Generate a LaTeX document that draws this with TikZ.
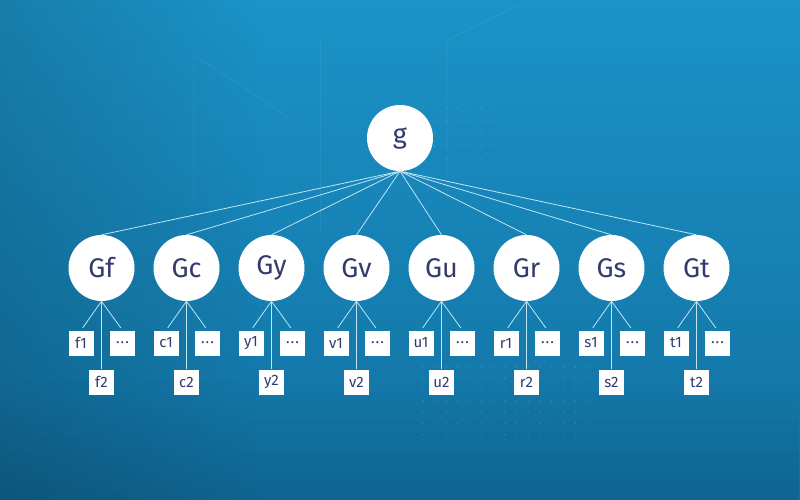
\documentclass[tikz,border=0pt]{standalone}
\usepackage{fontspec}
\setmainfont{Fira Sans}
\usetikzlibrary{positioning,fadings}

\definecolor{bgtop}{RGB}{27,147,200}
\definecolor{bgbot}{RGB}{18,112,160}
\definecolor{ink}{RGB}{50,58,110}
\definecolor{wire}{RGB}{190,230,245}

\tikzset{
  grp/.style={circle, fill=white, minimum size=66pt, inner sep=0pt, text=ink, font=\fontsize{27}{27}\selectfont},
  leaf/.style={rectangle, fill=white, minimum size=25pt, inner sep=0pt, text=ink, font=\fontsize{15}{15}\selectfont},
  link/.style={draw=wire, line width=0.8pt},
  deco/.style={draw=white, opacity=0.07, line width=0.8pt}
}

\begin{document}
\begin{tikzpicture}[x=1pt, y=-1pt]
    % Background
    \shade [top color=bgtop, bottom color=bgbot] (0,0) rectangle (800,500);
    \fill [black, opacity=0.14, path fading=east] (0,0) rectangle (260,500);
    \fill [black, opacity=0.10, path fading=north] (0,380) rectangle (800,500);
    \useasboundingbox (0,0) rectangle (800,500);
    \draw [deco] (194,200) -- (194,55) -- (288,117) -- (288,230);
    \draw [deco] (320,230) -- (320,40);
    \draw [deco] (447,200) -- (447,40) -- (520,5);
    \foreach \dx in {0,...,6} \foreach \dy in {0,...,5}
        \fill [white, opacity=0.12] (423+11.7*\dx,108+12.7*\dy) circle (0.9);
    \foreach \dx in {0,...,14} \foreach \dy in {0,...,6}
        \fill [white, opacity=0.12] (423+11.7*\dx,367+11.3*\dy) circle (0.9);

    % Root node
    \node [grp] (g) at (400,138) {g};

    % Groups {Gf, Gc, Gy, etc} and their items
    \foreach \l [count=\i from 0] in {f,c,y,v,u,r,s,t} {
        \pgfmathsetmacro\x{101.5+85*\i}
        \node [grp]  (G\l)     at (\x,268)      {G\l};
        \node [leaf] (\l1)     at (\x-20.5,343) {\l1};
        \node [leaf] (\l dots) at (\x+21,343)   {.\kern1pt.\kern1pt.};
        \node [leaf] (\l2)     at (\x,382)      {\l2};

        % Paths
        \path [link] (g.south)  edge (G\l.north);
        \path [link] (G\l.south) edge [shorten >=3pt] (\l1.north);
        \path [link] (G\l.south) edge [shorten >=3pt] (\l dots.north);
        \path [link] (G\l.south) edge (\l2.north);
    }
\end{tikzpicture}
\end{document}
